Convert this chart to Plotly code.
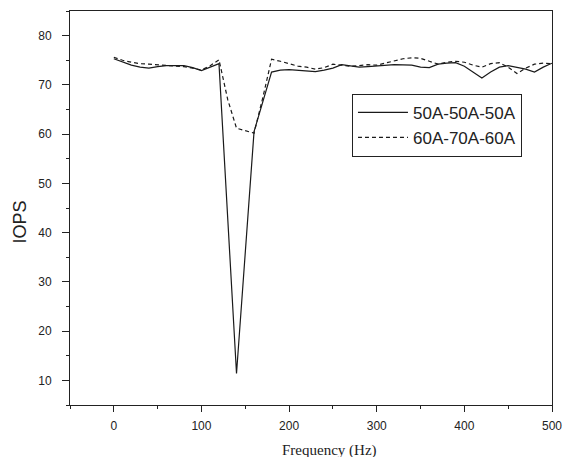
import plotly.graph_objects as go

freq_a = [0, 10, 20, 30, 40, 50, 60, 70, 80, 90, 100, 110, 120, 140, 160, 180, 190, 200,
          220, 230, 240, 250, 260, 270, 280, 290, 300, 310, 320, 340, 350, 360, 370, 380,
          390, 400, 410, 420, 430, 440, 450, 460, 470, 480, 490, 500]
iops_a = [75.3, 74.6, 74.0, 73.6, 73.4, 73.7, 73.9, 73.9, 73.9, 73.5, 72.9, 73.6, 74.3,
          11.4, 60.5, 72.6, 73.0, 73.1, 72.8, 72.7, 73.0, 73.4, 74.1, 73.9, 73.6, 73.7,
          73.8, 74.0, 74.1, 74.0, 73.6, 73.5, 74.2, 74.4, 74.5, 73.8, 72.6, 71.4, 72.6,
          73.6, 73.9, 73.6, 73.2, 72.6, 73.6, 74.4]

freq_b = [0, 10, 20, 30, 40, 50, 60, 70, 80, 90, 100, 110, 120, 130, 140, 150, 160, 170,
          180, 190, 200, 210, 220, 230, 240, 250, 260, 270, 280, 290, 300, 310, 320, 330,
          340, 350, 360, 370, 380, 390, 400, 410, 420, 430, 440, 450, 460, 470, 480, 490, 500]
iops_b = [75.6, 75.0, 74.6, 74.3, 74.2, 74.1, 74.0, 73.8, 73.7, 73.4, 73.0, 73.9, 75.1,
          67.0, 61.2, 60.7, 60.2, 67.4, 75.2, 74.8, 74.3, 73.8, 73.6, 73.2, 73.5, 74.2,
          74.0, 73.8, 73.9, 74.1, 74.0, 74.4, 74.9, 75.3, 75.5, 75.4, 74.8, 74.2, 74.6,
          74.8, 74.6, 74.0, 73.6, 74.3, 74.5, 73.6, 72.3, 73.4, 74.2, 74.4, 74.3]

name_a = "50A-50A-50A"
name_b = "60A-70A-60A"
x_title = "Frequency (Hz)"
y_title = "IOPS"

fig = go.Figure()
fig.add_trace(go.Scatter(x=freq_a, y=iops_a, mode="lines", name=name_a,
                         line=dict(color="#1a1a1a", width=1.2)))
fig.add_trace(go.Scatter(x=freq_b, y=iops_b, mode="lines", name=name_b,
                         line=dict(color="#1a1a1a", width=1.2, dash="4px,3px")))

axis_common = dict(showline=True, linecolor="#222", linewidth=1, mirror=True,
                   showgrid=False, zeroline=False, ticks="outside", tickcolor="#222",
                   tickfont=dict(family="Arial, Liberation Sans", size=12, color="#222"))

fig.update_xaxes(range=[-50, 500], tick0=0, dtick=100, ticklen=6,
                 minor=dict(dtick=50, tick0=0, ticks="outside", ticklen=3, tickcolor="#222"),
                 ticklabelstandoff=4, **axis_common)
fig.update_yaxes(range=[5, 85], tick0=0, dtick=10, ticklen=7,
                 minor=dict(dtick=5, tick0=0, ticks="outside", ticklen=3, tickcolor="#222"),
                 ticklabelstandoff=8, **axis_common)

fig.update_layout(
    width=572, height=457,
    margin=dict(l=70, r=14, t=10, b=52),
    plot_bgcolor="white", paper_bgcolor="white",
    showlegend=True,
    legend=dict(x=0.585, y=0.79, xanchor="left", yanchor="top",
                bordercolor="#222", borderwidth=1, bgcolor="white",
                font=dict(family="Arial, Liberation Sans", size=17, color="#222"),
                itemwidth=50, tracegroupgap=0),
    annotations=[
        dict(text=y_title, xref="paper", yref="paper", x=0, y=0.463,
             xshift=-62, textangle=-90, showarrow=False,
             font=dict(family="Arial, Liberation Sans", size=18, color="#222")),
        dict(text=x_title, xref="paper", yref="paper", x=0.539, y=0,
             yshift=-45, yanchor="middle", showarrow=False,
             font=dict(family="Times New Roman, Liberation Serif", size=15, color="#222")),
    ],
)

fig.write_html("out.html")
